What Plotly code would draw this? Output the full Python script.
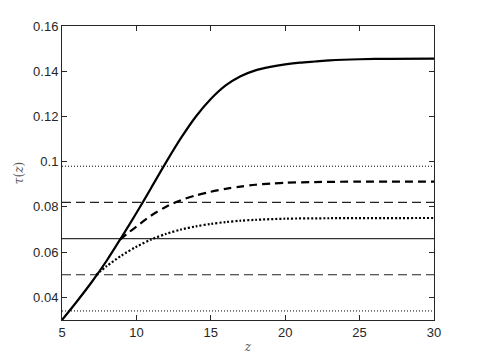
import plotly.graph_objects as go

# tau(z) curves
z_solid = [5, 6, 7, 8, 9, 10, 11, 12, 13, 14, 15, 16, 17, 18, 19, 20, 21, 22, 23, 25, 27, 30]
tau_solid = [0.030, 0.0382, 0.0468, 0.0562, 0.0666, 0.0773, 0.0885, 0.0998, 0.1105, 0.1200, 0.1277,
             0.1337, 0.1378, 0.1404, 0.1419, 0.1430, 0.1438, 0.1443, 0.1448, 0.1453, 0.1455, 0.1456]

z_dashed = [8.9, 9.5, 10, 11, 12, 13, 14, 15, 16, 17, 18, 19, 20, 22, 25, 30]
tau_dashed = [0.0655, 0.0688, 0.0713, 0.0762, 0.0801, 0.0830, 0.0851, 0.0867, 0.0880, 0.0890,
              0.0898, 0.0903, 0.0907, 0.0910, 0.0912, 0.0912]

z_dotted = [7.3, 8, 9, 10, 11, 12, 13, 14, 15, 16, 17, 18, 20, 23, 30]
tau_dotted = [0.050, 0.0538, 0.0585, 0.0624, 0.0656, 0.0681, 0.0700, 0.0714, 0.0725, 0.0733,
              0.0739, 0.0743, 0.0748, 0.0750, 0.0751]

# horizontal reference levels
z_span = [5, 30]
level_mid = 0.066
levels_dashed = [0.082, 0.050]
levels_dotted = [0.098, 0.034]

x_ticks = [5, 10, 15, 20, 25, 30]
y_ticks = [0.04, 0.06, 0.08, 0.1, 0.12, 0.14, 0.16]
y_tick_text = ["0.04", "0.06", "0.08", "0.1", "0.12", "0.14", "0.16"]

fig = go.Figure()

# reference levels first, so the curves sit on top
for lv in levels_dotted:
    fig.add_trace(go.Scatter(x=z_span, y=[lv, lv], mode="lines",
                             line=dict(color="black", width=1, dash="1px,2px")))
for lv in levels_dashed:
    fig.add_trace(go.Scatter(x=z_span, y=[lv, lv], mode="lines",
                             line=dict(color="#222222", width=1.2, dash="9px,5px")))
fig.add_trace(go.Scatter(x=z_span, y=[level_mid, level_mid], mode="lines",
                         line=dict(color="#333333", width=1.2)))

fig.add_trace(go.Scatter(x=z_dotted, y=tau_dotted, mode="lines", line_shape="spline",
                         line=dict(color="black", width=2.2, dash="2px,2px", smoothing=0.8)))
fig.add_trace(go.Scatter(x=z_dashed, y=tau_dashed, mode="lines", line_shape="spline",
                         line=dict(color="black", width=2.2, dash="8px,5px", smoothing=0.8)))
fig.add_trace(go.Scatter(x=z_solid, y=tau_solid, mode="lines", line_shape="spline",
                         line=dict(color="black", width=2.2, smoothing=0.8)))

axis_style = dict(
    showline=True, linecolor="#262626", linewidth=1, mirror="ticks",
    ticks="inside", ticklen=5, tickcolor="#262626",
    showgrid=False, zeroline=False,
    tickfont=dict(family="Liberation Sans, Arial", size=13, color="#262626"),
)

# the page body adds an 8px offset, so margins are trimmed to compensate
fig.update_layout(
    width=480, height=360,
    margin=dict(l=54, r=54, t=18, b=48),
    paper_bgcolor="white", plot_bgcolor="white",
    showlegend=False,
    xaxis=dict(range=[5, 30], tickvals=x_ticks, **axis_style),
    yaxis=dict(range=[0.03, 0.16], tickvals=y_ticks, ticktext=y_tick_text, **axis_style),
)

fig.update_xaxes(title=dict(text="<i>z</i>", standoff=4,
                            font=dict(family="DejaVu Serif, Liberation Serif", size=12, color="#555555")))
fig.update_yaxes(title=dict(text="<i>τ</i>(<i>z</i>)", standoff=6,
                            font=dict(family="DejaVu Serif, Liberation Serif", size=12, color="#555555")))

fig.write_html("out.html")
